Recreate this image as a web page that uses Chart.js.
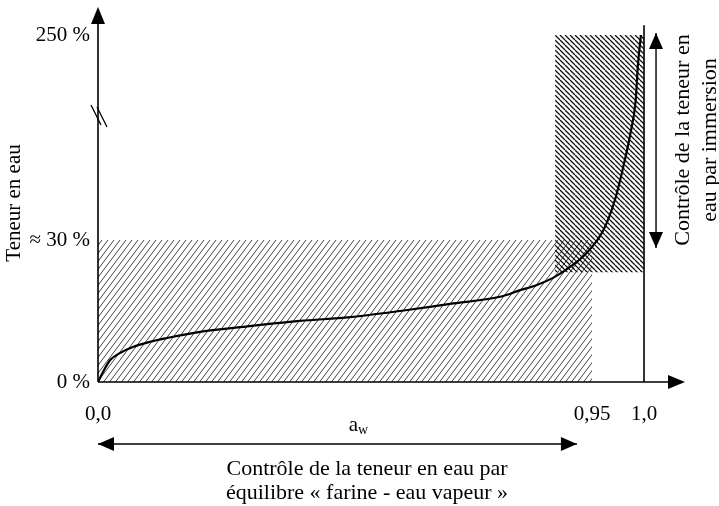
<!DOCTYPE html>
<html lang="fr">
<head>
<meta charset="utf-8">
<title>Teneur en eau – a_w</title>
<script src="https://cdn.jsdelivr.net/npm/chart.js@4.4.1/dist/chart.umd.min.js"></script>
<style>
  html, body { margin: 0; padding: 0; background: #fff; }
  canvas { display: block; }
</style>
</head>
<body>
<canvas id="chart" width="719" height="506"></canvas>
<script>
// sorption curve: water activity vs water content (%)
const aw = [0, 0.0096, 0.023, 0.042, 0.067, 0.100, 0.133, 0.196, 0.292, 0.388, 0.485, 0.581, 0.677,
  0.773, 0.812, 0.844, 0.875, 0.908, 0.940, 0.961, 0.972, 0.980, 0.987, 0.992, 0.994, 0.997];
const moisture = [0, 2.1, 4.6, 6.1, 7.4, 8.5, 9.3, 10.6, 11.8, 12.9, 13.7, 15.0, 16.5,
  18.0, 19.4, 20.5, 22.0, 24.3, 27.3, 40.7, 72.9, 108.3, 144.8, 180.2, 215.7, 250];

// measuring ranges
const vapourRangeAw = [0, 0.95];
const vapourRangeMoisture = [0, 30];
const immersionRangeAw = [0.879, 1.0];
const immersionRangeMoisture = [23.2, 250];
const awLimit = 1.0;
const awLimitTop = 257;

const xTickValues = [0, 0.95, 1.0];
const xTickLabels = ['0,0', '0,95', '1,0'];
const yTickValues = [0, 30, 250];
const yTickLabels = ['0 %', '≈ 30 %', '250 %'];

// the axes are not to scale: piecewise mapping value -> fraction of axis length
const xBreakValues = [0, 0.95, 1.0, 1.04];
const xBreakFractions = [0, 0.8416, 0.9302, 1];
const yBreakValues = [0, 30, 250, 270];
const yBreakFractions = [0, 0.3787, 0.9253, 1];
const yBreakMark = 162;

const FONT = '"Liberation Serif", "Times New Roman", serif';

class PiecewiseScale extends Chart.LinearScale {
  static id = 'piecewise';
  _stops() {
    return this.axis === 'x'
      ? [xBreakValues, xBreakFractions]
      : [yBreakValues, yBreakFractions];
  }
  getPixelForValue(value) {
    if (value === null || isNaN(value)) return NaN;
    const [vs, fs] = this._stops();
    let i = 0;
    while (i < vs.length - 2 && value > vs[i + 1]) i++;
    const d = fs[i] + (value - vs[i]) / (vs[i + 1] - vs[i]) * (fs[i + 1] - fs[i]);
    return this.getPixelForDecimal(d);
  }
  getValueForPixel(pixel) {
    const [vs, fs] = this._stops();
    const d = this.getDecimalForPixel(pixel);
    let i = 0;
    while (i < fs.length - 2 && d > fs[i + 1]) i++;
    return vs[i] + (d - fs[i]) / (fs[i + 1] - fs[i]) * (vs[i + 1] - vs[i]);
  }
}
Chart.register(PiecewiseScale);

function hatch(w, h, dir, width, color) {
  const c = document.createElement('canvas');
  c.width = w; c.height = h;
  const g = c.getContext('2d');
  g.strokeStyle = color;
  g.lineWidth = width;
  g.beginPath();
  for (let k = -1; k <= 1; k++) {
    if (dir > 0) { g.moveTo(k * w, h); g.lineTo(k * w + w, 0); }
    else { g.moveTo(k * w, 0); g.lineTo(k * w + w, h); }
  }
  g.stroke();
  return g.createPattern(c, 'repeat');
}

function rect(xs, ys) {
  return [{ x: xs[0], y: ys[1] }, { x: xs[1], y: ys[1] }];
}

function arrowHead(g, x, y, angle, len, half) {
  g.save();
  g.translate(x, y);
  g.rotate(angle);
  g.beginPath();
  g.moveTo(0, 0);
  g.lineTo(-len, -half);
  g.lineTo(-len, half);
  g.closePath();
  g.fill();
  g.restore();
}

function doubleArrow(g, x1, y1, x2, y2) {
  const a = Math.atan2(y2 - y1, x2 - x1);
  g.beginPath();
  g.moveTo(x1, y1);
  g.lineTo(x2, y2);
  g.stroke();
  arrowHead(g, x2, y2, a, 16, 7);
  arrowHead(g, x1, y1, a + Math.PI, 16, 7);
}

const annotations = {
  id: 'annotations',
  afterDatasetsDraw(chart) {
    const g = chart.ctx;
    const { left, right, top, bottom } = chart.chartArea;
    const x = chart.scales.x, y = chart.scales.y;
    g.save();
    g.strokeStyle = '#000';
    g.fillStyle = '#000';
    g.lineWidth = 1.6;

    // axes with arrows
    g.beginPath();
    g.moveTo(left, bottom);
    g.lineTo(left, top + 10);
    g.moveTo(left, bottom);
    g.lineTo(right - 10, bottom);
    g.stroke();
    arrowHead(g, left, top, -Math.PI / 2, 17, 7);
    arrowHead(g, right, bottom, 0, 17, 7);

    // axis break on the y axis
    const yb = y.getPixelForValue(yBreakMark);
    g.lineWidth = 1.3;
    g.beginPath();
    g.moveTo(left - 7, yb - 12); g.lineTo(left + 3, yb + 8);
    g.moveTo(left - 1, yb - 10); g.lineTo(left + 9, yb + 10);
    g.stroke();

    // immersion range arrow
    g.lineWidth = 1.4;
    const xa = x.getPixelForValue(awLimit) + 12;
    doubleArrow(g, xa, y.getPixelForValue(immersionRangeMoisture[1]) - 2, xa, y.getPixelForValue(vapourRangeMoisture[1]) + 8);

    // vapour equilibrium range arrow
    const ya = bottom + 62;
    doubleArrow(g, x.getPixelForValue(0), ya, x.getPixelForValue(0.921), ya);
    g.restore();
  },
  afterDraw(chart) {
    const g = chart.ctx;
    const { bottom } = chart.chartArea;
    const x = chart.scales.x;
    g.save();
    g.fillStyle = '#000';
    g.textAlign = 'center';
    g.textBaseline = 'middle';

    // y axis title
    g.font = '21px ' + FONT;
    g.save();
    g.translate(14, 203);
    g.rotate(-Math.PI / 2);
    g.fillText('Teneur en eau', 0, 0);
    g.restore();

    // immersion caption
    g.font = '22px ' + FONT;
    g.save();
    g.translate(x.getPixelForValue(awLimit) + 52, 140);
    g.rotate(-Math.PI / 2);
    g.fillText('Contrôle de la teneur en', 0, -13);
    g.fillText('eau par immersion', 0, 14);
    g.restore();

    // a_w
    const cx = 358, cy = bottom + 43;
    g.font = '21px ' + FONT;
    g.textAlign = 'right';
    g.fillText('a', cx, cy);
    g.textAlign = 'left';
    g.font = '14px ' + FONT;
    g.fillText('w', cx, cy + 5);

    // vapour caption
    g.font = '22px ' + FONT;
    g.textAlign = 'center';
    g.fillText('Contrôle de la teneur en eau par', 367, bottom + 87);
    g.fillText('équilibre « farine - eau vapeur »', 367, bottom + 111);
    g.restore();
  }
};

new Chart(document.getElementById('chart'), {
  type: 'line',
  data: {
    datasets: [
      {
        data: aw.map((v, i) => ({ x: v, y: moisture[i] })),
        borderColor: '#000',
        borderWidth: 2.2,
        pointRadius: 0,
        fill: false,
        cubicInterpolationMode: 'monotone',
        order: 0
      },
      {
        data: [{ x: awLimit, y: 0 }, { x: awLimit, y: awLimitTop }],
        borderColor: '#000',
        borderWidth: 1.6,
        pointRadius: 0,
        fill: false,
        order: 1
      },
      {
        data: rect(immersionRangeAw, immersionRangeMoisture),
        borderWidth: 0,
        pointRadius: 0,
        backgroundColor: hatch(5, 5, -1, 1.3, '#111'),
        fill: { value: immersionRangeMoisture[0] },
        order: 2
      },
      {
        data: rect(vapourRangeAw, vapourRangeMoisture),
        borderWidth: 0,
        pointRadius: 0,
        backgroundColor: hatch(6, 8, 1, 1, '#444'),
        fill: { value: vapourRangeMoisture[0] },
        order: 3
      }
    ]
  },
  options: {
    responsive: false,
    animation: false,
    layout: { padding: { top: 7, right: 34, left: 0, bottom: 0 } },
    plugins: { legend: { display: false }, tooltip: { enabled: false } },
    scales: {
      x: {
        type: 'piecewise',
        min: 0,
        max: 1.04,
        grid: { display: false },
        border: { display: false },
        afterBuildTicks: s => { s.ticks = xTickValues.map(v => ({ value: v })); },
        afterFit: s => { s.height = 124; s.paddingLeft = 0; s.paddingRight = 0; },
        ticks: {
          autoSkip: false,
          maxRotation: 0,
          padding: 12,
          color: '#000',
          font: { family: FONT, size: 21 },
          callback: (v, i) => xTickLabels[i]
        }
      },
      y: {
        type: 'piecewise',
        min: 0,
        max: 270,
        grid: { display: false },
        border: { display: false },
        afterBuildTicks: s => { s.ticks = yTickValues.map(v => ({ value: v })); },
        afterFit: s => { s.width = 98; s.paddingTop = 0; s.paddingBottom = 0; },
        ticks: {
          autoSkip: false,
          padding: 0,
          color: '#000',
          font: { family: FONT, size: 21 },
          callback: (v, i) => yTickLabels[i]
        }
      }
    }
  },
  plugins: [annotations]
});
</script>
</body>
</html>
